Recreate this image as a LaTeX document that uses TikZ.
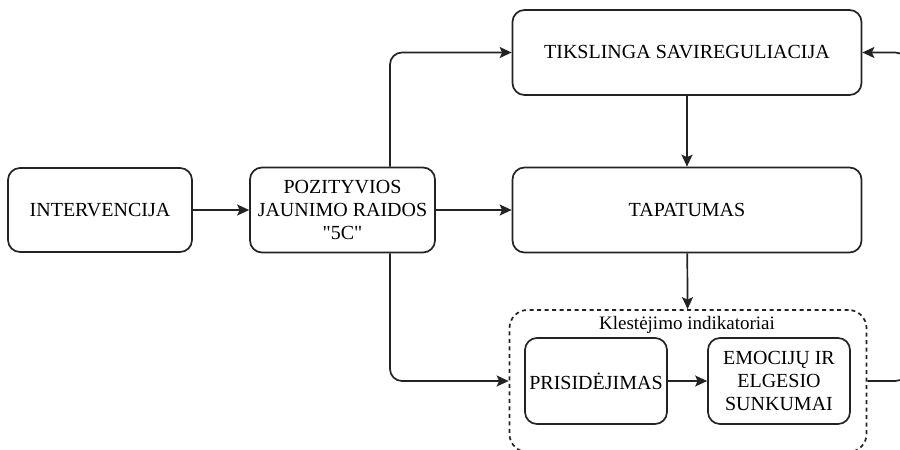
\documentclass[tikz,border=0pt]{standalone}
\usepackage{fontspec}
\setmainfont{Liberation Serif}[Ligatures=TeXOff]
\usetikzlibrary{arrows.meta}
\definecolor{ln}{RGB}{35,35,35}
\begin{document}
\begin{tikzpicture}[x=1pt,y=-1pt,
  box/.style={draw=ln, line width=1.7pt, rounded corners=12pt, align=center,
    font=\fontsize{20}{23}\selectfont, inner sep=0pt, text=black},
  arr/.style={draw=ln, line width=1.7pt, -{Stealth[length=12pt,width=11pt,inset=2.5pt]}},
  ]
\useasboundingbox (0,0) rectangle (900,450);
\clip (0,0) rectangle (900,450);
\node[box, minimum width=184, minimum height=84] (inter) at (100,210) {INTERVENCIJA};
\node[box, minimum width=185, minimum height=85] (pos) at (342.5,210) {POZITYVIOS\\JAUNIMO RAIDOS\\"5C"};
\node[box, minimum width=349, minimum height=85] (tiks) at (687,52.5) {TIKSLINGA SAVIREGULIACIJA};
\node[box, minimum width=349, minimum height=85] (tap) at (687,210) {TAPATUMAS};
\node[draw=ln, line width=1.7pt, dashed, dash pattern=on 4pt off 3.5pt, rounded corners=18pt,
  minimum width=357, minimum height=142, inner sep=0pt] (ind) at (688,381) {};
\node[font=\fontsize{19}{22}\selectfont, text=black] (lab) at (687,325) {Klestėjimo indikatoriai};
\node[box, minimum width=142, minimum height=86] (pris) at (596,381) {PRISIDĖJIMAS};
\node[box, minimum width=142, minimum height=86] (emo) at (779,381) {EMOCIJŲ IR\\ELGESIO\\SUNKUMAI};
\draw[arr] (inter) -- (pos);
\draw[arr] (pos) -- (tap);
\draw[arr, rounded corners=12pt] ([xshift=47.5]pos.north) |- (tiks.west);
\draw[arr, rounded corners=12pt] ([xshift=47.5]pos.south) |- (ind.west);
\draw[arr] (tiks) -- (tap);
\draw[arr] (tap) -- (ind);
\draw[arr] (pris) -- (emo);
\draw[arr, rounded corners=12pt] (ind.east) -- ++(40,0) |- (tiks.east);
\end{tikzpicture}
\end{document}
